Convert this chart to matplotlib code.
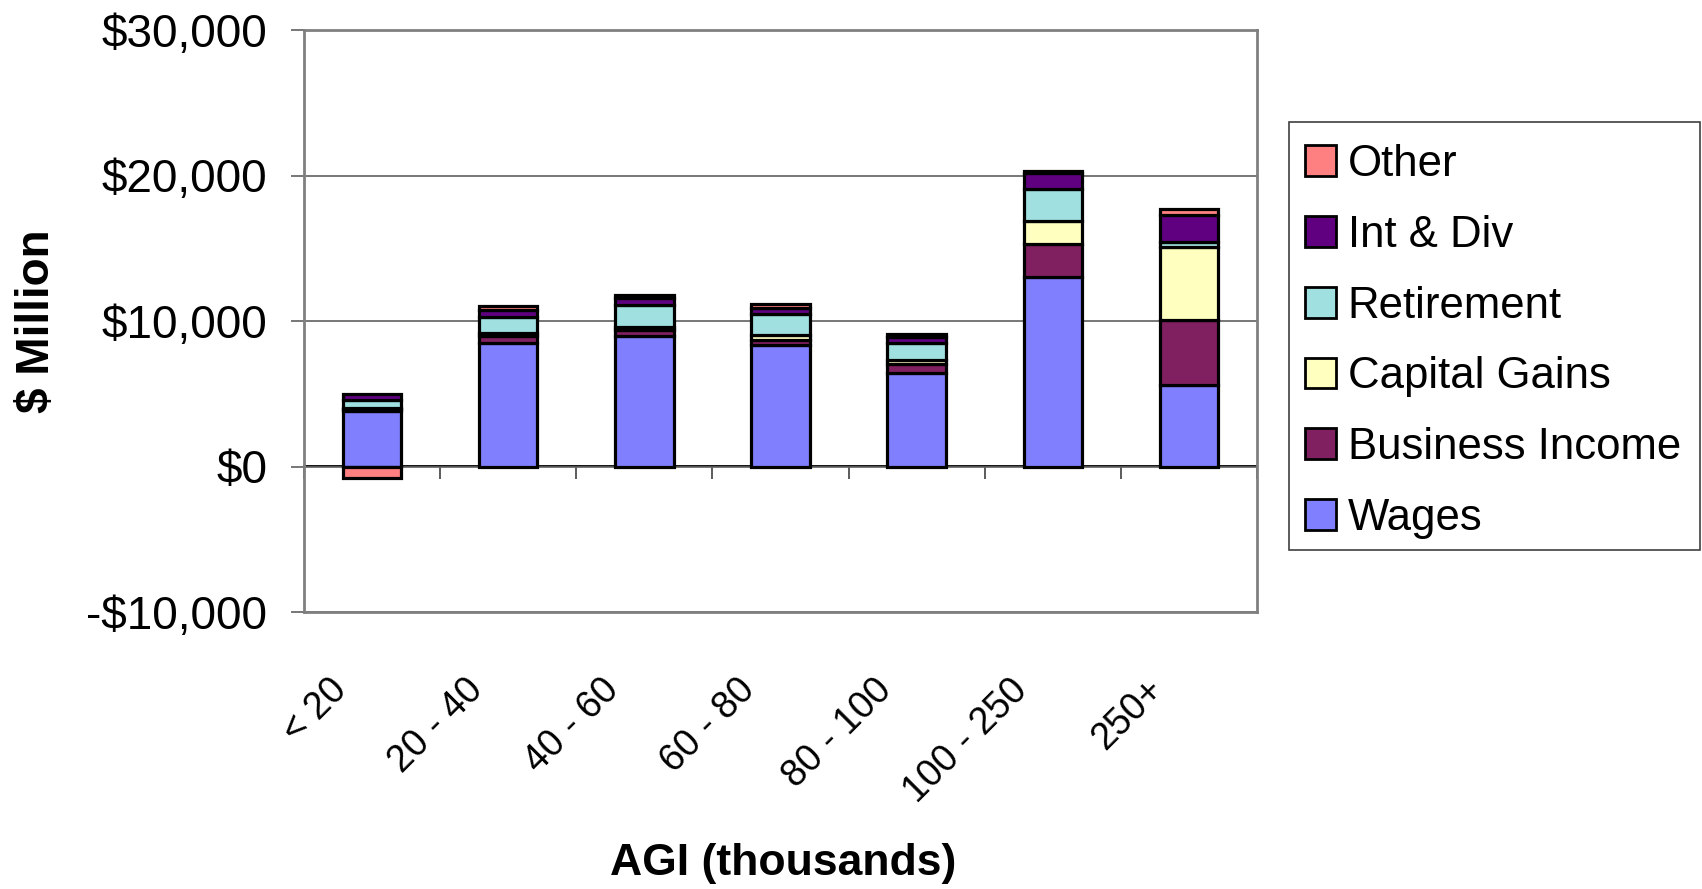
import numpy as np
import matplotlib
matplotlib.use("Agg")
import matplotlib.pyplot as plt
import matplotlib.transforms as mtransforms
from matplotlib.patches import Patch, Rectangle

plt.rcParams['font.family'] = ['Liberation Sans', 'DejaVu Sans']

categories = ['< 20', '20 - 40', '40 - 60', '60 - 80', '80 - 100', '100 - 250', '250+']
wages = [3800, 8500, 8950, 8330, 6440, 13050, 5600]
business_income = [150, 450, 400, 390, 600, 2230, 4450]
capital_gains = [100, 200, 250, 300, 300, 1580, 5050]
retirement = [550, 1150, 1500, 1480, 1150, 2230, 300]
int_div = [400, 450, 450, 420, 380, 1050, 1900]
other = [-820, 250, 270, 270, 270, 200, 380]

series_names = ['Wages', 'Business Income', 'Capital Gains', 'Retirement', 'Int & Div', 'Other']
series_values = [wages, business_income, capital_gains, retirement, int_div, other]
series_colors = ['#8080FF', '#802060', '#FFFFC0', '#A0E0E0', '#600080', '#FF8080']

y_ticks = [-10000, 0, 10000, 20000, 30000]
y_tick_labels = ['-$10,000', '$0', '$10,000', '$20,000', '$30,000']

W, H = 1702, 889
fig = plt.figure(figsize=(W / 100, H / 100), dpi=100)
ax = fig.add_axes([304 / W, 1 - 612 / H, (1257 - 304) / W, (612 - 30) / H])

x = np.arange(len(categories))
pos_base = np.zeros(len(categories))
neg_base = np.zeros(len(categories))
handles = []
for name, vals, col in zip(series_names, series_values, series_colors):
    v = np.array(vals, dtype=float)
    bottoms = np.where(v >= 0, pos_base, neg_base)
    ax.bar(x, v, width=0.43, bottom=bottoms, color=col, edgecolor='black',
           linewidth=2.3, zorder=3)
    pos_base = pos_base + np.where(v >= 0, v, 0)
    neg_base = neg_base + np.where(v < 0, v, 0)
    handles.append(Patch(facecolor=col, edgecolor='black', linewidth=2.0, label=name))

ax.set_xlim(-0.5, len(categories) - 0.5)
ax.set_ylim(-10000, 30000)
ax.set_yticks(y_ticks)
ax.set_yticklabels(y_tick_labels, fontsize=33)
ax.tick_params(axis='y', direction='out', length=9.5, width=1.2, color='#606060', pad=17)
ax.yaxis.grid(True, color='#606060', linewidth=1.2, zorder=0)
ax.set_axisbelow(True)

for s in ax.spines.values():
    s.set_color('#808080')
    s.set_linewidth(2)

# x tick labels
ax.set_xticks(x)
ax.set_xticklabels(categories, fontsize=27, rotation=45, ha='right', va='top')
ax.tick_params(axis='x', length=0, pad=43)
off = mtransforms.ScaledTranslation(-18 / 100, 0, fig.dpi_scale_trans)
for lab in ax.get_xticklabels():
    lab.set_transform(lab.get_transform() + off)

# zero axis with category separators
sec = ax.secondary_xaxis(10000 / 40000)
sec.spines['bottom'].set_color('black')
sec.spines['bottom'].set_linewidth(1.3)
sec.set_xticks(np.arange(-0.5, len(categories), 1.0))
sec.tick_params(axis='x', direction='out', length=9, width=1.2, color='#404040', labelbottom=False)

fig.text(783 / W, 1 - 863 / H, 'AGI (thousands)', fontsize=32, fontweight='bold',
         ha='center', va='center')
fig.text(37 / W, 1 - 321 / H, '$ Million', fontsize=33, fontweight='bold',
         ha='center', va='center', rotation=90)

# legend frame
fig.patches.append(Rectangle((1289 / W, 1 - 550 / H), (1700 - 1289) / W, (550 - 122) / H,
                             transform=fig.transFigure, facecolor='white',
                             edgecolor='#404040', linewidth=1.2, zorder=0))
leg = fig.legend(handles=handles[::-1], loc='upper left',
                 bbox_to_anchor=(1281 / W, 1 - 120 / H), fontsize=31.5,
                 frameon=False,
                 handlelength=0.7, handleheight=0.7, handletextpad=0.27,
                 labelspacing=0.68, borderpad=0.55, borderaxespad=0)
leg.set_zorder(5)

fig.savefig('out.png', dpi=100)
